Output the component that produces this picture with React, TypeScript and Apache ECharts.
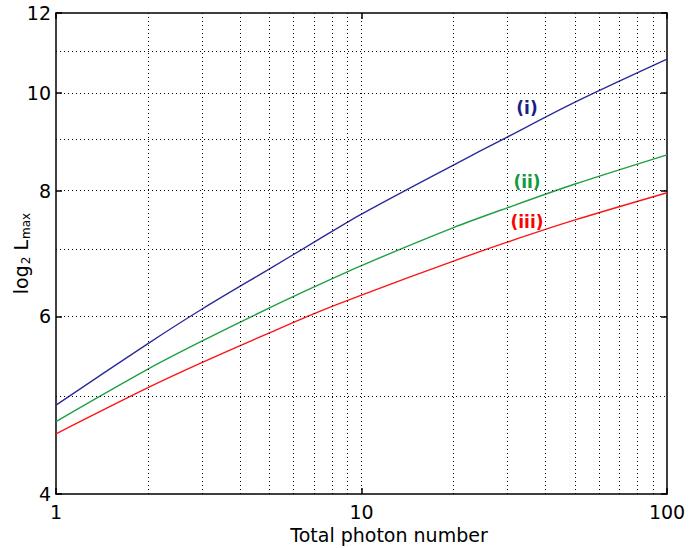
import React, { useEffect, useRef } from "react";
import * as echarts from "echarts";

// ---- data ----
const photonNumbers = [1, 2, 3, 5, 7, 10, 20, 30, 50, 100];
const curveI = [4.9, 5.64, 6.1, 6.69, 7.11, 7.58, 8.48, 9.04, 9.79, 10.8];
const curveII = [4.72, 5.32, 5.67, 6.12, 6.42, 6.74, 7.35, 7.69, 8.12, 8.68];
const curveIII = [4.59, 5.1, 5.4, 5.78, 6.04, 6.3, 6.81, 7.11, 7.48, 7.96];
const yTickLabels = [4, 6, 8, 10, 12];
const xGridValues = [2, 3, 4, 5, 6, 7, 8, 9, 10, 20, 30, 40, 50, 60, 70, 80, 90];
const yGridValues = [5, 6, 7, 8, 9, 10, 11];
const curveNames = ["(i)", "(ii)", "(iii)"];

const FONT = "DejaVu Sans";
const BLUE = "#2b2b9c";
const GREEN = "#1ea043";
const RED = "#ff1414";

export default function App() {
  const ref = useRef<HTMLDivElement>(null);
  useEffect(() => {
    if (!ref.current) return;
    const chart = echarts.init(ref.current, null, { renderer: "svg" });
    const axisLine = { show: true, onZero: false, lineStyle: { color: "#000", width: 1.5 } };
    const tickStyle = { show: true, inside: true, length: 6, lineStyle: { color: "#000", width: 1.5 } };
    const mk = (vals: number[]) => vals.map((v, i) => [photonNumbers[i], v]);
    chart.setOption({
      animation: false,
      backgroundColor: "#fff",
      grid: { left: 56, right: 22, top: 13, bottom: 54, containLabel: false, outerBoundsMode: "none" },
      xAxis: [
        {
          type: "log",
          logBase: 10,
          min: 1,
          max: 100,
          position: "bottom",
          axisLine,
          axisTick: tickStyle,
          splitLine: { show: false },
          axisLabel: { color: "#000", fontFamily: FONT, fontSize: 19, margin: 8 },
          name: "Total photon number",
          nameLocation: "middle",
          nameGap: 31,
          nameMoveOverlap: false,
          nameTextStyle: { color: "#000", fontFamily: FONT, fontSize: 19, padding: [0, 0, 0, 55] },
        },
        {
          type: "log",
          logBase: 10,
          min: 1,
          max: 100,
          position: "top",
          axisLine,
          axisTick: tickStyle,
          splitLine: { show: false },
          axisLabel: { show: false },
        },
      ],
      yAxis: [
        {
          type: "log",
          logBase: 10,
          min: 4,
          max: 12,
          position: "left",
          axisLine,
          axisTick: { ...tickStyle, customValues: yTickLabels },
          splitLine: { show: false },
          axisLabel: {
            color: "#000",
            fontFamily: FONT,
            fontSize: 19,
            margin: 5,
            customValues: yTickLabels,
            formatter: (v: number) => String(Math.round(v)),
          },
          name: "{a|log}{s|2}{a| L}{s|max}",
          nameLocation: "middle",
          nameRotate: 90,
          nameGap: 24,
          nameMoveOverlap: false,
          nameTextStyle: {
            color: "#000",
            rich: {
              a: { fontFamily: FONT, fontSize: 19, color: "#000" },
              s: { fontFamily: FONT, fontSize: 12, color: "#000", padding: [10, 0, 0, 1] },
            },
          },
        },
        {
          type: "log",
          logBase: 10,
          min: 4,
          max: 12,
          position: "right",
          axisLine,
          axisTick: { ...tickStyle, customValues: yTickLabels },
          splitLine: { show: false },
          axisLabel: { show: false, customValues: yTickLabels },
        },
      ],
      series: [
        {
          type: "line",
          data: [],
          z: 1,
          silent: true,
          markLine: {
            silent: true,
            symbol: ["none", "none"],
            label: { show: false },
            lineStyle: { type: [1, 3], color: "#000", width: 1 },
            emphasis: { disabled: true },
            data: [
              ...xGridValues.map((v) => ({ xAxis: v })),
              ...yGridValues.map((v) => ({ yAxis: v })),
            ],
          },
        },
        {
          name: curveNames[0],
          type: "line",
          data: mk(curveI),
          symbol: "none",
          smooth: 0.3,
          z: 3,
          lineStyle: { color: BLUE, width: 1.4 },
        },
        {
          name: curveNames[1],
          type: "line",
          data: mk(curveII),
          symbol: "none",
          smooth: 0.3,
          z: 3,
          lineStyle: { color: GREEN, width: 1.4 },
        },
        {
          name: curveNames[2],
          type: "line",
          data: mk(curveIII),
          symbol: "none",
          smooth: 0.3,
          z: 3,
          lineStyle: { color: RED, width: 1.4 },
        },
      ],
      graphic: [
        {
          type: "text",
          x: 527,
          y: 108,
          z: 10,
          style: { text: curveNames[0], fill: "#1c1c8a", fontFamily: FONT, fontSize: 17, fontWeight: "bold", align: "center", verticalAlign: "middle" },
        },
        {
          type: "text",
          x: 527,
          y: 182,
          z: 10,
          style: { text: curveNames[1], fill: "#129a3c", fontFamily: FONT, fontSize: 17, fontWeight: "bold", align: "center", verticalAlign: "middle" },
        },
        {
          type: "text",
          x: 527,
          y: 222,
          z: 10,
          style: { text: curveNames[2], fill: "#ff0000", fontFamily: FONT, fontSize: 17, fontWeight: "bold", align: "center", verticalAlign: "middle" },
        },
      ],
    });
    return () => chart.dispose();
  }, []);
  return <div ref={ref} style={{ position: "fixed", left: 0, top: 0, width: 689, height: 548 }} />;
}
